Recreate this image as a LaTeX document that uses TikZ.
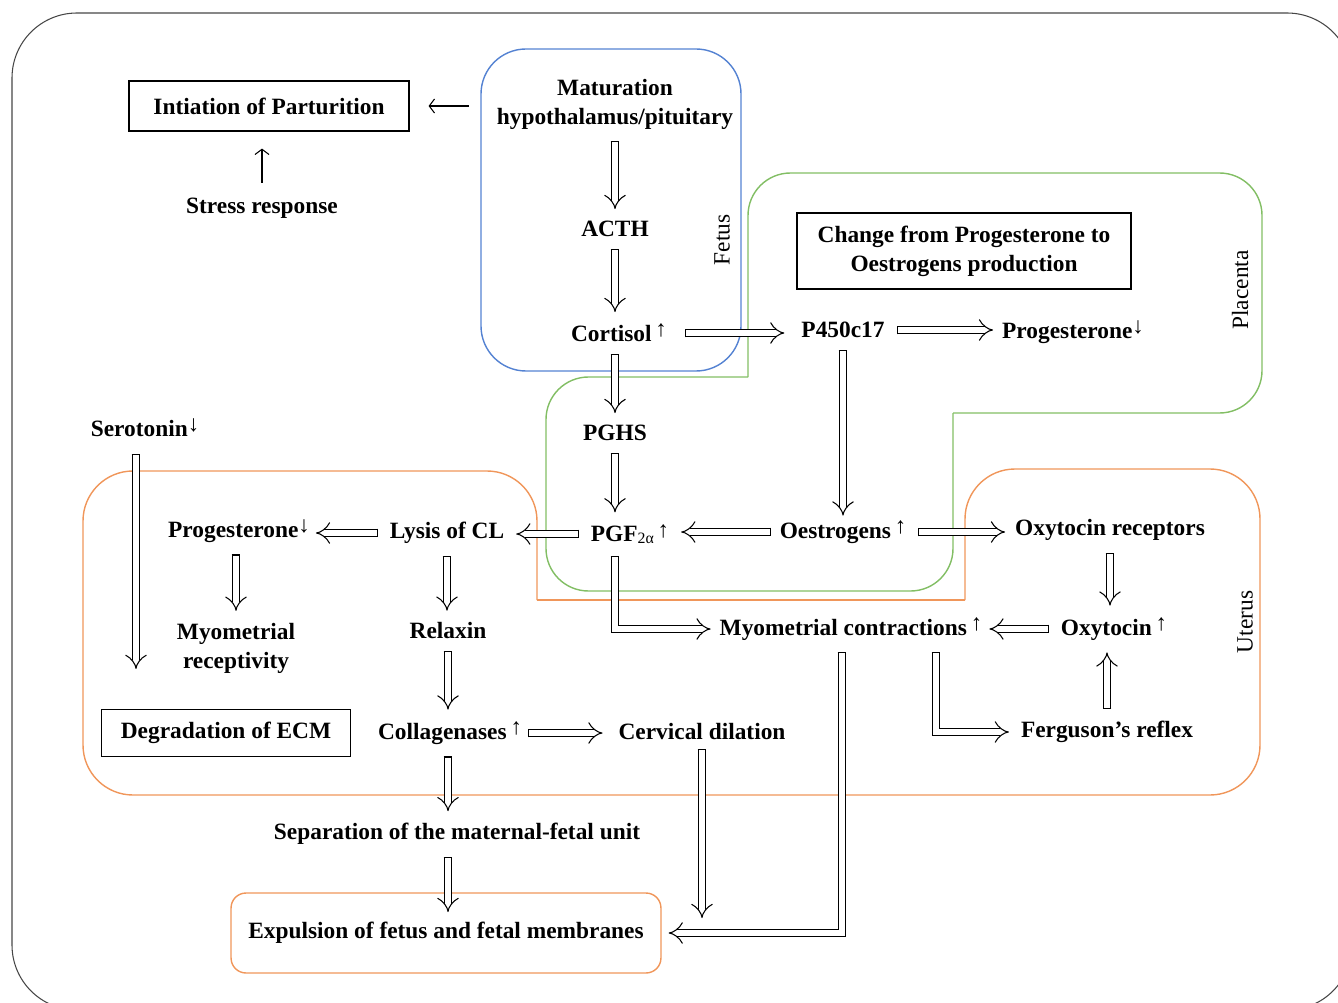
\documentclass[tikz,border=0pt]{standalone}
\usepackage{fontspec}
\setmainfont{Liberation Serif}
\usetikzlibrary{arrows.meta,calc}

\definecolor{fetusblue}{RGB}{84,130,210}
\definecolor{placgreen}{RGB}{130,190,100}
\definecolor{uterorange}{RGB}{240,150,90}
\definecolor{framegray}{RGB}{70,70,70}

\newcommand{\up}{\,{\fontsize{13}{13}\selectfont\raisebox{0.45ex}{↑}}}
\newcommand{\down}{{\fontsize{13}{13}\selectfont\raisebox{0.45ex}{↓}}}
\newcommand{\lowsub}[1]{{\fontsize{9}{9}\selectfont\mdseries\raisebox{-0.2ex}{#1}}}

\begin{document}
\begin{tikzpicture}[x=0.02cm, y=-0.02cm,
	txt/.style={font=\fontsize{13.3}{16.5}\selectfont\bfseries, align=center, inner sep=1pt},
	side/.style={font=\fontsize{13.3}{16.5}\selectfont, rotate=90},
	boxed/.style={txt, draw, line width=0.7pt},
	flow/.style={double, double distance=3.8pt, line width=0.6pt,
		{Bar[width=5pt, line width=0.6pt]}-{Implies},
		shorten <=0.2cm, shorten >=0.2cm},
	plain/.style={line width=0.6pt, -{Straight Barb[length=3pt,width=8pt]}}]

	\useasboundingbox (0,0) rectangle (1338,1003);
	\clip (0,0) rectangle (1338,1003);

	% outer frame
	\draw[framegray, line width=0.6pt, rounded corners=1.3cm] (12,13) rectangle (1352,1010);

	% regions
	\draw[fetusblue, line width=0.8pt, rounded corners=0.9cm] (481,49) rectangle (741,371);
	\draw[placgreen, line width=0.8pt, rounded corners=0.85cm] (748,377) -- (748,173) -- (1262,173) -- (1262,413) -- (953,413);
	\draw[placgreen, line width=0.8pt, rounded corners=0.85cm] (953,413) -- (953,591) -- (546,591) -- (546,377) -- (748,377);
	\draw[uterorange, line width=0.8pt, rounded corners=1cm] (537,600) -- (537,471) -- (83,471) -- (83,795) -- (1260,795) -- (1260,469) -- (965,469) -- (965,600);
	\draw[uterorange, line width=0.8pt] (965,600) -- (537,600);

	\node[side] (fetus) at (722,240) {Fetus};
	\node[side] (placenta) at (1240,290) {Placenta};
	\node[side] (uterus) at (1245,622) {Uterus};

	% nodes
	\node[boxed, minimum width=5.6cm, minimum height=1cm] (init) at (269,106) {Intiation of Parturition};
	\node[txt] (stress) at (262,208) {Stress response};
	\node[txt] (mat) at (615,104) {Maturation\\hypothalamus/pituitary};
	\node[txt] (acth) at (615,229) {ACTH};
	\node[txt] (cort) at (619,333) {Cortisol\up};
	\node[txt] (pghs) at (615,433) {PGHS};
	\node[txt] (pgf) at (630,534) {PGF\lowsub{2α}\up};
	\node[txt] (p450) at (843,330) {P450c17};
	\node[txt] (progp) at (1073,332) {Progesterone\down};
	\node[boxed, minimum width=6.68cm, minimum height=1.52cm] (change) at (964,251) {Change from Progesterone to\\Oestrogens production};
	\node[txt] (oest) at (843,532) {Oestrogens\up};
	\node[txt] (oxr) at (1110,530) {Oxytocin receptors};
	\node[txt] (oxy) at (1114,629) {Oxytocin\up};
	\node[txt] (myo) at (851,629) {Myometrial contractions\up};
	\node[txt] (ferg) at (1107,732) {Ferguson’s reflex};
	\node[txt] (sero) at (145,428) {Serotonin\down};
	\node[txt] (progu) at (239,531) {Progesterone\down};
	\node[txt] (lysis) at (447,533) {Lysis of CL};
	\node[txt] (myorec) at (236,648) {Myometrial\\receptivity};
	\node[boxed, minimum width=4.98cm, minimum height=0.94cm] (degr) at (226,733) {Degradation of ECM};
	\node[txt] (relax) at (448,631) {Relaxin};
	\node[txt] (coll) at (450,733) {Collagenases\up};
	\node[txt] (cerv) at (702,732) {Cervical dilation};
	\node[txt] (sep) at (457,834) {Separation of the maternal-fetal unit};
	\node[txt, draw=uterorange, line width=0.8pt, rounded corners=0.3cm, minimum width=8.6cm, minimum height=1.6cm] (expul) at (446,933) {Expulsion of fetus and fetal membranes};

	% thin arrows
	\draw[plain, shorten <=0.52cm, shorten >=0.38cm] (mat.west |- init) -- (init.east);
	\draw[plain, shorten <=0.26cm, shorten >=0.34cm] (stress.north) -- (stress.north |- init.south);

	% fetus
	\draw[flow] (mat) -- (acth);
	\draw[flow] (acth) -- (acth |- cort.north);
	\draw[flow] (cort.south -| acth) -- (pghs);
	\draw[flow] (pghs) -- (pghs |- pgf.north);

	% placenta
	\draw[flow, shorten <=0.32cm, shorten >=0.3cm] (cort.east) -- (cort.east -| p450.west);
	\draw[flow, shorten >=0.14cm] (p450.east) -- (p450.east -| progp.west);
	\draw[flow, shorten >=0.06cm] (p450) -- (oest);
	\draw[flow, shorten <=0.14cm] (oest.west) -- (oest.west -| pgf.east);
	\draw[flow, shorten >=0.16cm] (oest.east) -- (oest.east -| oxr.west);

	% uterus
	\draw[flow] (pgf.west) -- (pgf.west -| lysis.east);
	\draw[flow, shorten >=0.08cm] (lysis.west) -- (lysis.west -| progu.east);
	\draw[flow] (oxr) -- (oxr |- oxy.north);
	\draw[flow] (ferg) -- (ferg |- oxy.south);
	\draw[flow, shorten >=0.1cm] (oxy.west) -- (oxy.west -| myo.east);
	\draw[flow, shorten >=0.14cm] (pgf.south -| pghs) |- (myo.west);
	\draw[flow] ($(myo.south)+(85,0)$) |- (ferg.west);
	\draw[flow, shorten >=0.14cm] ($(myo.south)+(-9,0)$) |- (expul.east);
	\draw[flow, shorten <=0.3cm, shorten >=0.4cm] ($(sero.south)+(-9,0)$) -- ($(degr.north)+(-90,-20)$);
	\draw[flow] (progu.south -| myorec) -- (myorec);
	\draw[flow] (lysis) -- (lysis |- relax.north);
	\draw[flow] (relax) -- (relax |- coll.north);
	\draw[flow, shorten <=0.08cm, shorten >=0.28cm] (coll.east) -- (coll.east -| cerv.west);
	\draw[flow] (coll.south -| relax) -- (relax |- sep.north);
	\draw[flow, shorten >=0.42cm] (sep.south -| relax) -- (relax |- expul.center);
	\draw[flow, shorten <=0.14cm, shorten >=0.3cm] (cerv.south) -- (cerv.south |- expul.east);

\end{tikzpicture}
\end{document}
